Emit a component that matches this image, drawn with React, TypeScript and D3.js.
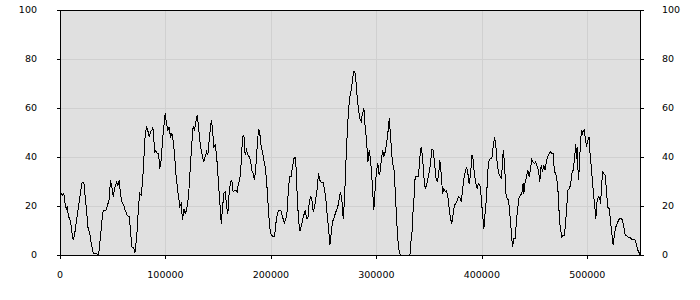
import React from "react";
import * as d3 from "d3";

const positions = [
  0, 1900, 3200, 4400, 5700, 6300, 7600, 9500, 10700, 12000, 13300, 15200, 17100, 19000, 20500, 22100,
  23400, 24700, 25900, 27800, 29100, 31000, 34100, 35400, 36400, 37900, 39200, 40500, 43000, 44300,
  46200, 47400, 48700, 50000, 51200, 53100, 54400, 55600, 56900, 58200, 60100, 61300, 63200, 65100,
  66400, 67600, 69500, 70500, 71400, 72700, 74000, 75200, 76500, 77800, 79000, 80300, 81600, 82800,
  84100, 85300, 86600, 87600, 88500, 89500, 90400, 91700, 92900, 94200, 95500, 96700, 98000, 99300,
  100500, 101800, 103000, 104300, 105600, 106800, 108100, 109400, 110600, 111900, 113200, 114400,
  115700, 117000, 118200, 119500, 120800, 122000, 123300, 124500,
  125800, 127100, 128300, 129600, 130900, 132100, 133400, 134700, 135900, 137200, 138500, 139700,
  141000, 142200, 143200, 144100, 145400, 146700, 147900, 149200, 150500, 151700, 152400, 153600,
  154900, 156200, 157400, 158700, 159900, 161200, 162500, 163700, 165000, 166300, 167500, 168800,
  170100, 171300, 172600, 173900, 175100, 176400, 177700, 178900, 180200, 181400, 182700, 184000,
  185200, 186500, 187800, 189000, 190300, 191600, 192800, 194100, 195400, 196600, 197900, 199100,
  200400, 201700, 202900, 204200, 205500, 206700, 208000, 209300, 210500, 212400, 213700, 215000,
  216200, 217500, 218700, 220000, 221300, 222500, 223200, 224400, 225700, 227000, 228200, 229500,
  230800, 232000, 233300, 234600, 235800, 237100, 238300, 239600, 240900, 242100, 243400, 244700,
  245900, 247200, 249100, 250400, 251600, 252900, 254100, 255400, 256700, 257900, 259200, 260500,
  261700, 263000, 264300, 265500, 266800, 268100, 269300, 270600, 271900, 273100, 274400, 275600,
  276900, 277900, 279100, 280100, 281300, 282600, 283900, 285100, 286400, 287700, 288900, 290200,
  291500, 292700, 294000, 295200, 296500, 297100, 298400, 299700, 300900, 302200,
  302800, 304100, 305400, 306600, 307900, 309200, 310400, 311700, 312300, 313600, 314800, 316100,
  317400, 318600, 319900, 321200, 322400, 331300, 332500, 333800, 334400, 335700, 336300, 339500,
  340800, 342000, 343300, 344600, 345800, 347100, 348400, 349600, 350900, 352100, 353400, 354700,
  355900, 357200, 358500, 359700, 361000, 362300, 363500, 364800, 366100, 367300, 368600, 369800,
  371100, 372400, 373600, 374900, 376200, 377400, 378700, 380000, 381200, 382500, 383800, 385000,
  386300, 387500, 388800, 390100, 391300, 392600, 393900, 395100, 396400, 397700, 398900, 400200,
  401500, 402700, 404000, 405300, 406500, 407800, 409000, 410300, 411600, 412800, 414100, 415400,
  416600, 417900, 419200, 419800, 421100, 422300, 423600, 424900, 426100, 427400, 428600, 429900,
  431200, 432400, 433700, 435000,
  437500, 438700, 439400, 440600, 441900, 443200, 444400, 445700, 446900, 448200, 449500, 450700,
  452000, 453300, 454500, 455800, 457100, 458300, 459600, 460900, 462100, 463400, 464600, 465900,
  467200, 468400, 469700, 471000, 472200, 472900, 473500, 474800, 475400, 476700, 477900, 478600,
  479800, 480500, 481100, 482400, 483600, 484900, 486100, 487400, 488000, 488700, 489300, 489900,
  490600, 491200, 491800, 492500, 493100, 494400, 495000, 495600, 496900, 497500, 498800, 500100,
  501300, 501900, 503200, 504500, 505700, 507000, 507600, 508900, 510200, 511400, 512100, 513300,
  514000, 515200, 516500, 517800, 519000, 520300, 521500, 522800, 524100, 525300, 526600, 527900,
  529100, 530400, 531700, 532900, 534200, 535500, 536700, 538000, 540500, 541800, 544900, 546200,
  547500, 550000,
];

const values = [
  26, 24.6, 25.3, 21, 18.5, 20, 16, 14, 9.7, 6.3, 8.3, 14.4, 20, 26, 30, 30,
  24, 18.5, 11.7, 9, 5, 1, 1, 0, 1.5, 7.6, 13.7, 18.5, 18.5, 20,
  23, 30.7, 28, 24, 27, 30, 28.7, 30.7, 25.3, 22, 20.5, 18.5, 16.5, 15.8,
  10.3, 3.5, 3.3, 1, 4.2, 10.3, 20.5, 25.3, 24.6, 30, 39, 49, 52.8, 51,
  48.4, 50.5, 51, 52.5, 47, 42.3, 43, 41.6, 41.6, 35.5, 39, 47, 52.5, 58,
  54, 51, 52.5, 48.4, 49.8, 47, 41.6, 33.5, 28.7, 24, 20, 21,
  14.4, 19, 17, 18.5, 22, 28, 37.5, 45.7,
  53, 51, 54.6, 57.3, 52.5, 47, 43, 40.3, 38.2, 40.3, 42.3, 41,
  47, 52.5, 55.2, 51.8, 44.4, 45, 41.6, 33.5, 25.3, 17.8, 13, 19.2,
  25.3, 26, 20.5, 17, 25.3, 30, 30.7, 26, 26.6, 26.6, 26, 29.4,
  31.4, 37.6, 48.4, 49.1, 41, 43, 41, 40.3, 39, 34.8, 33.5, 30.7,
  36.2, 44.4, 51.8, 49.8, 44.4, 42.3, 39, 36.2, 30.7, 22.6, 14.4, 9,
  8.3, 7.6, 7.6, 13, 16.5, 18.5, 18.5, 18.2, 15.8, 13.3, 15.1, 18.2,
  28, 32.1, 32.1, 36.2, 39.6, 40, 37.6, 25.3, 14.4, 9.9, 11.7, 14.4,
  16.5, 18.5, 15.1, 15.1, 21.2, 24, 23.3, 17.8, 19.9, 23.3, 27.3, 33.5,
  30.7, 30, 30, 26.6, 23.3, 16.5, 11.7, 4.2, 9, 13.7, 15.1, 17,
  18.5, 20, 23.3, 26, 22.6, 15.1, 22.6, 37.6, 49.8, 59.3, 64.8, 67.5,
  71.6, 75.2, 75, 71.6, 64.8, 59.3, 55.9, 54.6, 58, 60, 52.5, 47,
  38.2, 43, 39, 32.1, 22.6, 18.5, 27.3, 34.8, 37.6, 32.8,
  33.5, 38.2, 43, 40.3, 42.3, 45.7, 49.8, 55.9, 52.5, 45, 37.6, 36.2,
  26.6, 15.8, 6.3, 1.5, 0, 0, 6.3, 11.7, 19.2, 26, 32.4, 32.4,
  40.3, 44.4, 40.3, 32.1, 27.3, 28.7, 31.4, 34.1, 37.6, 43.3, 43, 37.6,
  32.1, 30, 32.8, 39, 33.5, 25.3, 27.3, 26, 26.6, 24, 19.2, 15.1,
  13, 17, 20.5, 21.2, 22.6, 24, 23.8, 21.9, 26.6, 31.4, 34.1, 36.2,
  33.5, 29.4, 32.8, 41, 39, 32.8, 29.4, 27.3, 29.4, 28.7, 24, 17,
  11, 17.8, 24, 34.8, 39, 39.6, 39.6, 44.4, 48.4, 45, 37.6, 33.5,
  32.8, 31.4, 37.6, 43, 37.6, 25.3, 23.3, 22.6, 17, 10.3, 3.5, 6.9,
  6.9, 14.4, 19.9, 24,
  25.3, 29.4, 25.3, 30, 32.1, 34.8, 32.1, 35.5, 39.2, 38.2, 37.6, 38.2,
  36.2, 34.8, 30, 36.9, 34.1, 36.9, 34.8, 39, 40.3, 41.6, 42.3, 41.6,
  41.6, 34.1, 33.5, 30, 24, 16.5, 13, 9, 7.6, 8.2, 8.2, 11.7,
  17.8, 22.6, 26.6, 27.3, 28.7, 33.5, 34.8, 39, 42.3, 45.4, 39.6, 44.4,
  36.2, 30.7, 34.8, 41, 47, 51.2, 49.8, 50.5, 51.2, 48.4, 44.4, 47,
  48.4, 43, 36.9, 30, 24, 18.5, 15.1, 22.6, 24, 23.3, 21.2, 29.4,
  34.1, 33.5, 32.8, 26, 19.6, 19.2, 14.4, 9, 4.2, 9, 11.7, 13,
  14.4, 15.1, 15.1, 14.4, 11.7, 8.3, 8.3, 7.6, 7.3, 6.5, 6.3, 4.2,
  2.2, 0,
];

const yTicks = [0, 20, 40, 60, 80, 100];
const xTicks = [0, 100000, 200000, 300000, 400000, 500000];

const FONT = "'DejaVu Sans', sans-serif";

export default function App() {
  const x = d3.scaleLinear().domain([0, 550000]).range([60, 640]);
  const y = d3.scaleLinear().domain([0, 100]).range([255, 10]);
  const pts: [number, number][] = values.map((v, i) => [x(positions[i]) + 0.5, y(v) + 0.5]);
  const line = d3.line<[number, number]>().x((d) => d[0]).y((d) => d[1]);
  const px = (v: number) => Math.round(v) + 0.5;

  return (
    <svg
      width={700}
      height={300}
      style={{ position: "absolute", left: 0, top: 0, background: "#fff" }}
    >
      <rect x={60} y={10} width={580} height={245} fill="#e0e0e0" />
      {yTicks.slice(1, -1).map((t) => (
        <line key={"gy" + t} x1={60} x2={640} y1={px(y(t))} y2={px(y(t))} stroke="#d0d0d0" strokeWidth={1} shapeRendering="crispEdges" />
      ))}
      {xTicks.slice(1).map((t) => (
        <line key={"gx" + t} x1={px(x(t))} x2={px(x(t))} y1={10} y2={255} stroke="#d0d0d0" strokeWidth={1} shapeRendering="crispEdges" />
      ))}
      <path d={line(pts) || ""} fill="none" stroke="#000" strokeWidth={1} shapeRendering="crispEdges" />
      <g stroke="#000" strokeWidth={1} shapeRendering="crispEdges">
        <line x1={60} x2={641} y1={10.5} y2={10.5} />
        <line x1={60} x2={641} y1={255.5} y2={255.5} />
        <line x1={60.5} x2={60.5} y1={10} y2={256} />
        <line x1={640.5} x2={640.5} y1={10} y2={256} />
        {yTicks.map((t) => (
          <g key={"ty" + t}>
            <line x1={57} x2={60} y1={px(y(t))} y2={px(y(t))} />
            <line x1={641} x2={644} y1={px(y(t))} y2={px(y(t))} />
          </g>
        ))}
        {xTicks.map((t) => (
          <line key={"tx" + t} x1={px(x(t))} x2={px(x(t))} y1={256} y2={259} />
        ))}
      </g>
      <g fontFamily={FONT} fontSize={9.5} fill="#000">
        {yTicks.map((t) => (
          <text key={"ly" + t} x={37} y={y(t)} dy="0.35em" textAnchor="end">{t}</text>
        ))}
        {yTicks.map((t) => (
          <text key={"ry" + t} x={662} y={y(t)} dy="0.35em" textAnchor="start">{t}</text>
        ))}
        {xTicks.map((t) => (
          <text key={"lx" + t} x={x(t)} y={277.5} textAnchor="middle">{t}</text>
        ))}
      </g>
    </svg>
  );
}
